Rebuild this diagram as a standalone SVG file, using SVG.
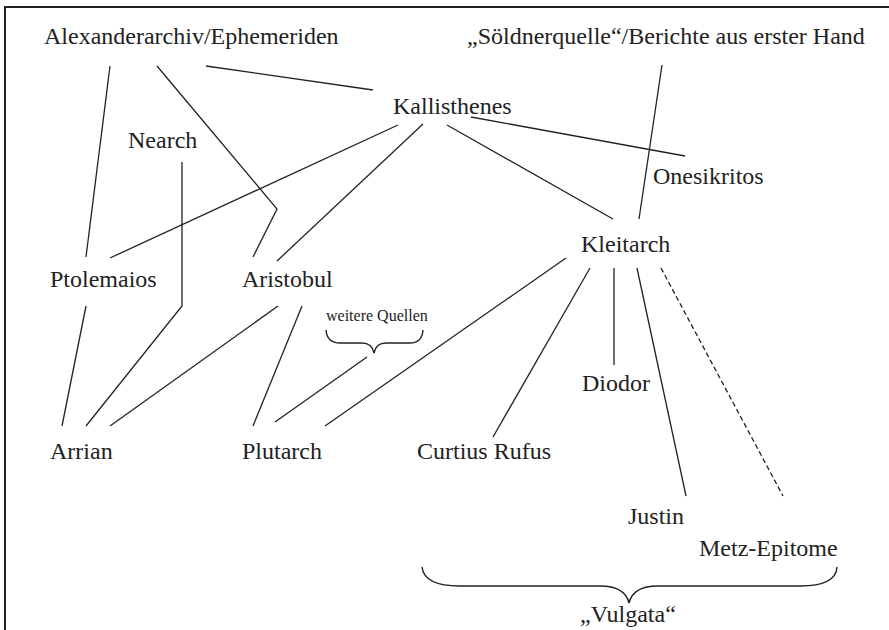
<svg xmlns="http://www.w3.org/2000/svg" width="889" height="630" viewBox="0 0 889 630">
<style>
text{font-family:"Liberation Serif","Times New Roman",serif;font-size:24px;fill:#222}
.small{font-size:16px}
.c line,.c polyline,.c path{stroke:#222;stroke-width:1.3;fill:none}
.dash{stroke-dasharray:5 3}
.brace{stroke:#222;stroke-width:1.4;fill:none}
</style>
<rect width="889" height="630" fill="#fff"/>
<g id="frame" stroke="#222" stroke-width="2" fill="none">
<line x1="4" y1="7" x2="889" y2="7"/>
<line x1="5" y1="6" x2="5" y2="630"/>
</g>
<g id="connectors" class="c">
<line x1="110" y1="66" x2="86" y2="257"/>
<polyline points="157,66 277,209 253,257"/>
<line x1="206" y1="66" x2="373" y2="90"/>
<polyline points="182,162 182,306 86,426"/>
<line x1="398" y1="125" x2="110" y2="258"/>
<line x1="423" y1="124" x2="277" y2="261"/>
<line x1="447" y1="125" x2="613" y2="219"/>
<line x1="471" y1="117" x2="685" y2="156"/>
<line x1="662" y1="65" x2="639" y2="219"/>
<line x1="86" y1="306" x2="62" y2="426"/>
<line x1="278" y1="306" x2="110" y2="426"/>
<line x1="302" y1="306" x2="253" y2="426"/>
<line x1="367" y1="357" x2="275" y2="422"/>
<line x1="566" y1="258" x2="325" y2="426"/>
<line x1="590" y1="268" x2="493" y2="437"/>
<line x1="614" y1="268" x2="614" y2="365"/>
<line x1="637" y1="268" x2="686" y2="496"/>
<line class="dash" x1="661" y1="268" x2="783" y2="496"/>
</g>
<g id="alexanderarchiv"><text x="44" y="44">Alexanderarchiv/Ephemeriden</text></g>
<g id="soeldnerquelle"><text x="467" y="44">„Söldnerquelle“/Berichte aus erster Hand</text></g>
<g id="kallisthenes"><text x="393" y="114">Kallisthenes</text></g>
<g id="nearch"><text x="128" y="148">Nearch</text></g>
<g id="onesikritos"><text x="653" y="184">Onesikritos</text></g>
<g id="kleitarch"><text x="581" y="252">Kleitarch</text></g>
<g id="ptolemaios"><text x="50" y="287">Ptolemaios</text></g>
<g id="aristobul"><text x="242" y="287">Aristobul</text></g>
<g id="weitere-quellen"><text class="small" x="326" y="321">weitere Quellen</text>
<path class="brace" d="M326,330 Q327,343 340,343 L362,343 Q372,343 374,353 Q376,343 386,343 L410,343 Q422,343 423,330"/></g>
<g id="diodor"><text x="582" y="391">Diodor</text></g>
<g id="arrian"><text x="50" y="459">Arrian</text></g>
<g id="plutarch"><text x="242" y="459">Plutarch</text></g>
<g id="curtius"><text x="417" y="459">Curtius Rufus</text></g>
<g id="justin"><text x="628" y="524">Justin</text></g>
<g id="metz"><text x="699" y="556">Metz-Epitome</text></g>
<g id="vulgata"><path class="brace" d="M422,567 Q424,586 460,586 L600,586 Q625,586 629,603 Q633,586 658,586 L800,586 Q836,586 837,567"/>
<text x="580" y="622">„Vulgata“</text></g>
</svg>
